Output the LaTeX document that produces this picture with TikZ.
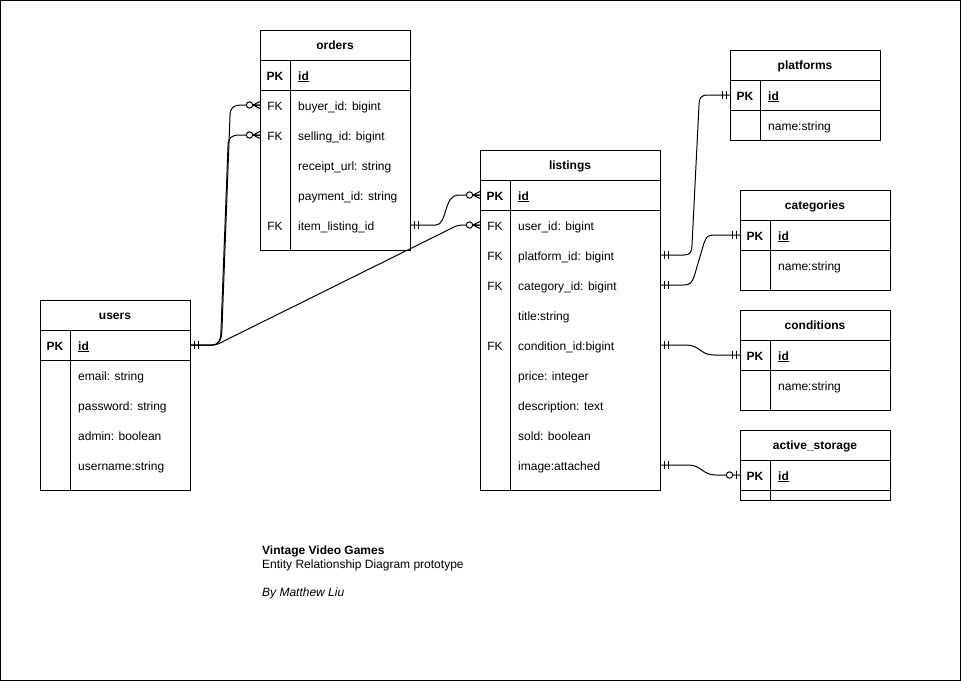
\documentclass[tikz,border=0pt]{standalone}
\usepackage{fontspec}
\setmainfont{Liberation Sans}
\newcommand\ERfont{\fontsize{12}{14}\selectfont}
\newcommand\tx{0}\newcommand\tw{0}\newcommand\tdiv{0}
\newcommand\ERbox[4]{% name, title, top, bottom
  \node[ttl, minimum width=\tw pt] (#1) at ({\tx+\tw/2},{#3+15}) {#2};
  \draw[tbl] (\tx,#3) rectangle ({\tx+\tw},#4);
  \draw[tbl] (\tx,{#3+30}) -- ({\tx+\tw},{#3+30});
  \draw[tbl] (\tx,{#3+60}) -- ({\tx+\tw},{#3+60});
  \draw[tbl] (\tdiv,{#3+30}) -- (\tdiv,#4);
}
\newcommand\ERrow[4]{% name, y, key, field
  \node[rowb, minimum width=\tw pt] (#1) at ({\tx+\tw/2},#2) {};
  \node[keyt] (#1-k) at ({(\tx+\tdiv)/2},#2) {#3};
  \node[fld] (#1-f) at ({\tdiv+8},#2) {#4};
}
\tikzset{
  tbl/.style={line width=1pt, black},
  cn/.style={line width=1pt, black},
  ttl/.style={font=\ERfont\bfseries, minimum height=30pt, inner sep=0pt, outer sep=0pt, text height=9.5pt, text depth=0.5pt},
  rowb/.style={minimum height=30pt, inner sep=0pt, outer sep=0pt},
  keyt/.style={font=\ERfont, inner sep=0pt, text height=10pt, text depth=0pt},
  fld/.style={font=\ERfont, anchor=west, inner sep=0pt, text height=10pt, text depth=0pt},
  note/.style={font=\ERfont, anchor=west, inner sep=0pt, text height=10pt, text depth=0pt},
  pics/one/.style={code={\draw[cn] (4,-4)--(4,4) (8,-4)--(8,4);}},
  pics/zmany/.style={code={\draw[cn] (0,-3.5)--(7,0)--(0,3.5) (0,0)--(7,0); \draw[cn,fill=white] (10.5,0) circle[radius=3.2pt];}},
  pics/zone/.style={code={\draw[cn] (4,-4)--(4,4); \draw[cn,fill=white] (10.5,0) circle[radius=3.2pt];}},
}
\begin{document}
\begin{tikzpicture}[x=1pt,y=-1pt]
\useasboundingbox (0,0) rectangle (961,681);
\draw[tbl] (0.5,0.5) rectangle (960.5,680.5);

% orders
\renewcommand\tx{260}\renewcommand\tw{150}\renewcommand\tdiv{290}
\ERbox{ord}{orders}{30}{250}
\ERrow{ord-id}{75}{\textbf{PK}}{\underline{\textbf{id}}}
\ERrow{ord-buyer}{105}{FK}{buyer\_id: bigint}
\ERrow{ord-sell}{135}{FK}{selling\_id: bigint}
\ERrow{ord-rcpt}{165}{}{receipt\_url: string}
\ERrow{ord-pay}{195}{}{payment\_id: string}
\ERrow{ord-item}{225}{FK}{item\_listing\_id}

% listings
\renewcommand\tx{480}\renewcommand\tw{180}\renewcommand\tdiv{510}
\ERbox{lst}{listings}{150}{490}
\ERrow{lst-id}{195}{\textbf{PK}}{\underline{\textbf{id}}}
\ERrow{lst-user}{225}{FK}{user\_id: bigint}
\ERrow{lst-plat}{255}{FK}{platform\_id: bigint}
\ERrow{lst-cat}{285}{FK}{category\_id: bigint}
\ERrow{lst-title}{315}{}{title:string}
\ERrow{lst-cond}{345}{FK}{condition\_id:bigint}
\ERrow{lst-price}{375}{}{price: integer}
\ERrow{lst-desc}{405}{}{description: text}
\ERrow{lst-sold}{435}{}{sold: boolean}
\ERrow{lst-img}{465}{}{image:attached}

% users
\renewcommand\tx{40}\renewcommand\tw{150}\renewcommand\tdiv{70}
\ERbox{usr}{users}{300}{490}
\ERrow{usr-id}{345}{\textbf{PK}}{\underline{\textbf{id}}}
\ERrow{usr-email}{375}{}{email: string}
\ERrow{usr-pass}{405}{}{password: string}
\ERrow{usr-admin}{435}{}{admin: boolean}
\ERrow{usr-name}{465}{}{username:string}

% platforms
\renewcommand\tx{730}\renewcommand\tw{150}\renewcommand\tdiv{760}
\ERbox{plt}{platforms}{50}{140}
\ERrow{plt-id}{95}{\textbf{PK}}{\underline{\textbf{id}}}
\ERrow{plt-name}{125}{}{name:string}

% categories
\renewcommand\tx{740}\renewcommand\tw{150}\renewcommand\tdiv{770}
\ERbox{cat}{categories}{190}{290}
\ERrow{cat-id}{235}{\textbf{PK}}{\underline{\textbf{id}}}
\ERrow{cat-name}{265}{}{name:string}

% conditions
\ERbox{cnd}{conditions}{310}{410}
\ERrow{cnd-id}{355}{\textbf{PK}}{\underline{\textbf{id}}}
\ERrow{cnd-name}{385}{}{name:string}

% active_storage
\ERbox{ast}{active\_storage}{430}{500}
\ERrow{ast-id}{475}{\textbf{PK}}{\underline{\textbf{id}}}

% connectors
\draw[cn] (usr-id.east) -- (212,345) .. controls (220,345) and (222,338) .. (222,328) -- (230,116) .. controls (230,108) and (233,105) .. (242,105) -- (ord-buyer.west);
\draw[cn] (usr-id.east) -- (212,345) .. controls (219,345) and (221,339) .. (221,330) -- (228,146) .. controls (228,138) and (231,135) .. (240,135) -- (ord-sell.west);
\draw[cn] (usr-id.east) -- (212,345) .. controls (218,345) and (220,343) .. (226,340) -- (450,229) .. controls (455,226.5) and (457,225) .. (464,225) -- (lst-user.west);
\draw[cn] (ord-item.east) -- (436,225) .. controls (447,225) and (444,195) .. (458,195) -- (lst-id.west);
\draw[cn] (lst-plat.east) -- (684,255) .. controls (690,255) and (692,252) .. (692,245) -- (699,105) .. controls (699,98) and (701,95) .. (708,95) -- (plt-id.west);
\draw[cn] (lst-cat.east) -- (684,285) .. controls (690,285) and (692,282) .. (694,277) -- (704,243) .. controls (706,237) and (708,235) .. (714,235) -- (cat-id.west);
\draw[cn] (lst-cond.east) -- (686,345) .. controls (700,345) and (700,355) .. (714,355) -- (cnd-id.west);
\draw[cn] (lst-img.east) -- (688,465) .. controls (702,465) and (702,475) .. (716,475) -- (ast-id.west);

% end marks
\path (usr-id.east) pic{one};
\path (ord-buyer.west) pic[rotate=180]{zmany};
\path (ord-sell.west) pic[rotate=180]{zmany};
\path (lst-user.west) pic[rotate=180]{zmany};
\path (ord-item.east) pic{one};
\path (lst-id.west) pic[rotate=180]{zmany};
\path (lst-plat.east) pic{one};
\path (plt-id.west) pic[rotate=180]{one};
\path (lst-cat.east) pic{one};
\path (cat-id.west) pic[rotate=180]{one};
\path (lst-cond.east) pic{one};
\path (cnd-id.west) pic[rotate=180]{one};
\path (lst-img.east) pic{one};
\path (ast-id.west) pic[rotate=180]{zone};

% caption
\node[note] (cap1) at (262,549) {\textbf{Vintage Video Games}};
\node[note] (cap2) at (262,563) {Entity Relationship Diagram prototype};
\node[note] (cap3) at (262,591) {\textit{By Matthew Liu}};
\end{tikzpicture}
\end{document}
